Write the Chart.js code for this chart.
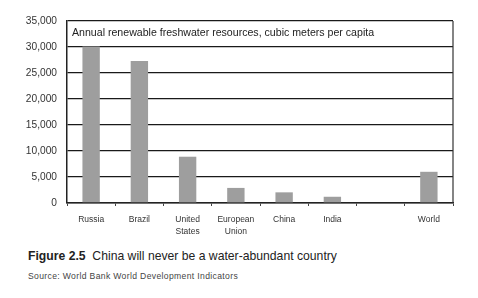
<!DOCTYPE html>
<html><head><meta charset="utf-8">
<script src="https://cdn.jsdelivr.net/npm/chart.js@4.4.1/dist/chart.umd.min.js"></script>
<style>
html,body{margin:0;padding:0;background:#fff;width:478px;height:298px;overflow:hidden;font-family:"Liberation Sans",Arial,sans-serif;}
#wrap{position:absolute;left:0;top:0;width:478px;height:240px;}
#note{position:absolute;left:72px;top:26px;font-size:10.6px;color:#222;white-space:nowrap;}
#cap{position:absolute;left:28px;top:249px;font-size:12.2px;color:#222;white-space:nowrap;}
#cap b{font-weight:bold;}
#src{position:absolute;left:28px;top:271px;font-size:8.6px;letter-spacing:0.35px;color:#444;white-space:nowrap;}
</style></head>
<body>
<div id="wrap"><canvas id="c" width="478" height="240"></canvas></div>
<div id="note">Annual renewable freshwater resources, cubic meters per capita</div>
<div id="cap"><b>Figure 2.5</b>&nbsp; China will never be a water-abundant country</div>
<div id="src">Source: World Bank World Development Indicators</div>
<script>
const categories = [["Russia"], ["Brazil"], ["United", "States"], ["European", "Union"], ["China"], ["India"], [""], ["World"]];
const freshwaterPerCapita = [30100, 27300, 8900, 2900, 2050, 1200, null, 6000];
const yTicks = [0, 5000, 10000, 15000, 20000, 25000, 30000, 35000];

const frame = {
  id: 'frame',
  afterDraw(chart) {
    const {ctx, chartArea: a} = chart;
    ctx.save();
    ctx.strokeStyle = '#333';
    ctx.lineWidth = 1.2;
    ctx.beginPath();
    ctx.moveTo(a.right, a.top);
    ctx.lineTo(a.right, a.bottom);
    ctx.stroke();
    ctx.restore();
  }
};

new Chart(document.getElementById('c'), {
  type: 'bar',
  data: {
    labels: categories,
    datasets: [{
      data: freshwaterPerCapita,
      backgroundColor: '#9e9e9e',
      borderWidth: 0,
      categoryPercentage: 0.36,
      barPercentage: 1.0
    }]
  },
  options: {
    responsive: false,
    animation: false,
    layout: {padding: {left: 0, right: 25, top: 21, bottom: 0}},
    plugins: {legend: {display: false}, tooltip: {enabled: false}},
    scales: {
      y: {
        min: 0, max: 35000,
        afterFit(s) { s.width = 67; },
        afterBuildTicks(s) { s.ticks = yTicks.map(v => ({value: v})); },
        ticks: {
          color: '#333',
          font: {family: '"Liberation Sans", Arial, sans-serif', size: 10.2},
          padding: 10,
          callback: v => v.toLocaleString('en-US')
        },
        grid: {color: '#1a1a1a', lineWidth: 1.3, drawTicks: false},
        border: {color: '#222', width: 1.5}
      },
      x: {
        offset: true,
        afterFit(s) { s.height = 37; },
        ticks: {
          color: '#333',
          font: {family: '"Liberation Sans", Arial, sans-serif', size: 8.5, lineHeight: 1.4},
          padding: 8,
          maxRotation: 0, autoSkip: false
        },
        grid: {offset: true, drawOnChartArea: false, drawTicks: true, tickLength: 3, color: '#444', lineWidth: 1},
        border: {color: '#222', width: 1.6}
      }
    }
  },
  plugins: [frame]
});
</script>
</body></html>
